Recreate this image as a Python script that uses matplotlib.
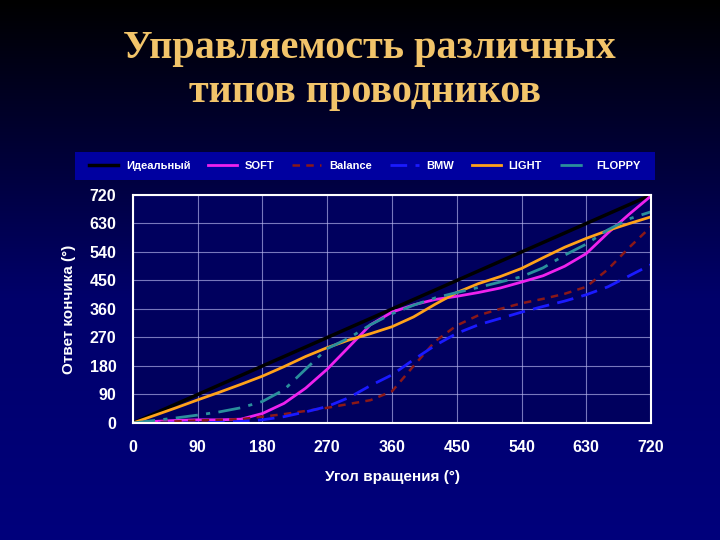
import numpy as np
import matplotlib
matplotlib.use('Agg')
import matplotlib.pyplot as plt
from matplotlib.colors import LinearSegmentedColormap

# angle of rotation (deg)
ang = [0, 30, 60, 90, 120, 150, 180, 210, 240, 270, 300, 330, 360,
       390, 420, 450, 480, 510, 540, 570, 600, 630, 660, 690, 720]

ideal_x = [0, 720]
ideal_y = [0, 720]
soft = [0, 5, 8, 10, 10, 12, 30, 62, 110, 170, 240, 310, 350,
        373, 390, 400, 412, 426, 445, 465, 495, 535, 600, 660, 717]
balance = [0, 2, 5, 8, 10, 12, 20, 28, 38, 48, 60, 72, 100,
           180, 258, 308, 340, 360, 378, 392, 408, 430, 485, 555, 620]
bmw = [0, 0, 0, 0, 2, 5, 10, 20, 35, 52, 80, 118, 152,
       200, 245, 283, 310, 330, 350, 368, 385, 405, 430, 465, 500]
light = [0, 24, 48, 73, 97, 122, 148, 178, 210, 238, 262, 282, 304,
         335, 375, 412, 440, 462, 488, 522, 555, 583, 608, 630, 651]
floppy = [0, 8, 16, 25, 35, 48, 68, 105, 170, 235, 268, 310, 345,
          372, 395, 412, 428, 445, 462, 490, 530, 565, 610, 645, 667]

ticks = [0, 90, 180, 270, 360, 450, 540, 630, 720]

fig = plt.figure(figsize=(7.2, 5.4), dpi=100)

# background gradient
bg = fig.add_axes([0, 0, 1, 1], zorder=-10)
cmap = LinearSegmentedColormap.from_list('bg', [(0, '#000000'), (0.55, '#00006a'), (1, '#00007c')])
grad = np.linspace(0, 1, 256).reshape(-1, 1)
bg.imshow(grad, aspect='auto', cmap=cmap, extent=[0, 1, 0, 1], origin='upper')
bg.set_axis_off()

# legend bar
bar = plt.Rectangle((0.104, 0.667), 0.806, 0.052, transform=fig.transFigure,
                    facecolor='#0000a0', edgecolor='none', zorder=-5)
fig.patches.append(bar)

fig.text(0.513, 0.91, 'Управляемость различных', ha='center', va='center',
         family='Liberation Serif', weight='bold', fontsize=29, color='#f2c46a')
fig.text(0.507, 0.829, 'типов проводников', ha='center', va='center',
         family='Liberation Serif', weight='bold', fontsize=29, color='#f2c46a')

ax = fig.add_axes([0.1847, 0.2167, 0.7195, 0.4222])
ax.set_facecolor('#00005e')
ax.plot(ideal_x, ideal_y, color='black', lw=2.5, label='Идеальный')
ax.plot(ang, soft, color='#ee22ee', lw=2, label='SOFT')
ax.plot(ang, balance, color='#8a1818', lw=1.8, ls=(0, (3, 2.5)), label='Balance')
ax.plot(ang, bmw, color='#1a1aff', lw=2, ls=(0, (6, 3)), label='BMW')
ax.plot(ang, light, color='#ffa21a', lw=2, label='LIGHT')
ax.plot(ang, floppy, color='#2a8f9c', lw=2, ls=(0, (8, 3, 1.5, 3)), label='FLOPPY')

ax.set_xlim(0, 720)
ax.set_ylim(0, 720)
ax.set_xticks(ticks)
ax.set_yticks(ticks)
ax.grid(color='#b8b8f0', lw=0.8, alpha=0.65)
ax.set_axisbelow(True)
for s in ax.spines.values():
    s.set_color('white')
    s.set_linewidth(1.5)
ax.tick_params(length=0, pad=12, labelsize=11.5, colors='white')
for lab in ax.get_xticklabels() + ax.get_yticklabels():
    lab.set_fontweight('bold')
    lab.set_family('Liberation Sans')
ax.set_xlabel('Угол вращения (°)', color='white', fontsize=11, weight='bold',
              family='Liberation Sans', labelpad=11)
ax.set_ylabel('Ответ кончика (°)', color='white', fontsize=11, weight='bold',
              family='Liberation Sans', labelpad=10)

leg = fig.legend(loc='center', bbox_to_anchor=(0.507, 0.693), ncol=6, frameon=False,
                 prop={'family': 'Liberation Sans', 'weight': 'bold', 'size': 8},
                 handlelength=2.6, columnspacing=1.6, handletextpad=0.7)
for t in leg.get_texts():
    t.set_color('white')

fig.savefig('out.png', dpi=100)
